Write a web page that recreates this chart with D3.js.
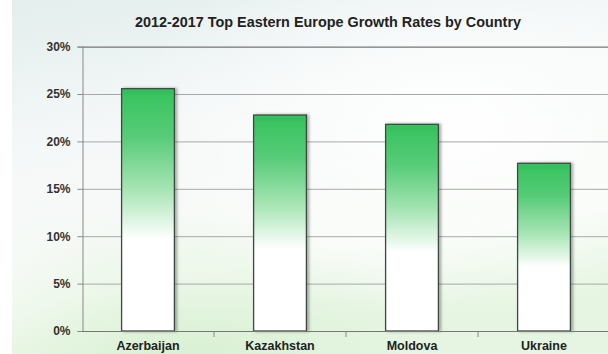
<!DOCTYPE html>
<html><head><meta charset="utf-8">
<script src="https://cdn.jsdelivr.net/npm/d3@7"></script>
<style>html,body{margin:0;padding:0;background:#fff;overflow:hidden}</style>
</head><body>
<svg id="chart" width="608" height="354"></svg>
<script>
const categories = ["Azerbaijan", "Kazakhstan", "Moldova", "Ukraine"];
const values = [25.56, 22.78, 21.8, 17.69];
const yTicks = [0, 5, 10, 15, 20, 25, 30];
const title = "2012-2017 Top Eastern Europe Growth Rates by Country";

const svg = d3.select("#chart");
const W = 608, H = 354;
const m = {left: 82, right: -2, top: 46.6, bottom: 23};
const defs = svg.append("defs");

// background
const bg = defs.append("linearGradient").attr("id","bg").attr("x1","0").attr("y1","0").attr("x2","0.3").attr("y2","1");
bg.append("stop").attr("offset","0").attr("stop-color","#e3eeed");
bg.append("stop").attr("offset","0.4").attr("stop-color","#f5f8f8");
bg.append("stop").attr("offset","0.8").attr("stop-color","#f7fbf6");
bg.append("stop").attr("offset","1").attr("stop-color","#e6f5e2");
svg.append("rect").attr("x",0).attr("y",0).attr("width",W).attr("height",H).attr("fill","url(#bg)");
const bg2 = defs.append("radialGradient").attr("id","bg2").attr("cx","0.75").attr("cy","0.35").attr("r","0.55");
bg2.append("stop").attr("offset","0").attr("stop-color","#ffffff").attr("stop-opacity",0.9);
bg2.append("stop").attr("offset","1").attr("stop-color","#ffffff").attr("stop-opacity",0);
svg.append("rect").attr("x",0).attr("y",0).attr("width",W).attr("height",H).attr("fill","url(#bg2)");
const bg3 = defs.append("radialGradient").attr("id","bg3").attr("cx","0.3").attr("cy","1").attr("r","0.4");
bg3.append("stop").attr("offset","0").attr("stop-color","#d4efcd").attr("stop-opacity",0.7);
bg3.append("stop").attr("offset","1").attr("stop-color","#d4efcd").attr("stop-opacity",0);
svg.append("rect").attr("x",0).attr("y",0).attr("width",W).attr("height",H).attr("fill","url(#bg3)");
svg.append("rect").attr("x",0).attr("y",0).attr("width",12).attr("height",H).attr("fill","#ffffff");

const x = d3.scaleBand().domain(categories).range([m.left, W - m.right]).paddingInner(0.6).paddingOuter(0.3);
const y = d3.scaleLinear().domain([0, 30]).range([331, m.top]);

// gridlines
svg.append("g").selectAll("line").data(yTicks.filter(t => t > 0)).join("line")
  .attr("x1", m.left).attr("x2", W)
  .attr("y1", d => y(d) + 0.5).attr("y2", d => y(d) + 0.5)
  .attr("stroke", d => d === 30 ? "#555" : "#a8a8a8").attr("stroke-width", 1);

// y axis
const yAxis = d3.axisLeft(y).tickValues(yTicks).tickSize(5).tickPadding(7).tickFormat(d => d + "%");
const gy = svg.append("g").attr("transform", `translate(${m.left + 0.5},0)`).call(yAxis);
gy.select(".domain").attr("stroke", "#888");
gy.selectAll(".tick line").attr("stroke", "#888");
gy.selectAll(".tick text").attr("fill", "#333").attr("font-family", "Liberation Sans, Arial, sans-serif")
  .attr("font-size", 12).attr("font-weight", "bold");

// bar gradient
const bgGrad = defs.append("linearGradient").attr("id","barg").attr("x1","0").attr("y1","0").attr("x2","0").attr("y2","1");
bgGrad.append("stop").attr("offset","0").attr("stop-color","#34c35c");
bgGrad.append("stop").attr("offset","0.2").attr("stop-color","#58cc79");
bgGrad.append("stop").attr("offset","0.42").attr("stop-color","#a8e5b5");
bgGrad.append("stop").attr("offset","0.62").attr("stop-color","#ffffff");
bgGrad.append("stop").attr("offset","1").attr("stop-color","#ffffff");
const shadow = defs.append("filter").attr("id","sh").attr("x","-20%").attr("y","-10%").attr("width","150%").attr("height","130%");
shadow.append("feDropShadow").attr("dx",2).attr("dy",0).attr("stdDeviation",1.5).attr("flood-color","#000").attr("flood-opacity",0.35);

const bars = svg.append("g");
bars.selectAll("rect.bar").data(categories).join("rect").attr("class","bar")
  .attr("x", d => x(d)).attr("width", x.bandwidth())
  .attr("y", (d,i) => y(values[i])).attr("height", (d,i) => y(0) - y(values[i]))
  .attr("fill", "url(#barg)").attr("stroke", "#3c4a40").attr("stroke-width", 1.3)
  .attr("filter", "url(#sh)");
// bevel top highlight (subtle)
bars.selectAll("rect.bev").data(categories).join("rect").attr("class","bev")
  .attr("x", d => x(d) + 2).attr("width", x.bandwidth() - 4)
  .attr("y", (d,i) => y(values[i]) + 2).attr("height", 4)
  .attr("fill", "#2fae52").attr("opacity", 0.25);

// x axis
const xAxis = d3.axisBottom(x).tickSize(0).tickPadding(10);
const gx = svg.append("g").attr("transform", `translate(0,331.5)`).call(xAxis);
gx.select(".domain").remove();
svg.append("line").attr("x1", m.left).attr("x2", W).attr("y1", 331.5).attr("y2", 331.5).attr("stroke", "#777");
const bounds = categories.slice(1).map(c => x(c) - x.step() * x.paddingInner() / 2);
svg.append("g").selectAll("line").data(bounds).join("line")
  .attr("x1", d => d).attr("x2", d => d).attr("y1", 331.5).attr("y2", 337).attr("stroke", "#888");
gx.selectAll(".tick text").attr("fill", "#222").attr("font-family", "Liberation Sans, Arial, sans-serif")
  .attr("font-size", 12.5).attr("font-weight", "bold");

svg.append("text").attr("x", 328).attr("y", 27).attr("text-anchor", "middle")
  .attr("font-family", "Liberation Sans, Arial, sans-serif").attr("font-size", 14.4).attr("font-weight", "bold")
  .attr("fill", "#222").text(title);
</script>
</body></html>
